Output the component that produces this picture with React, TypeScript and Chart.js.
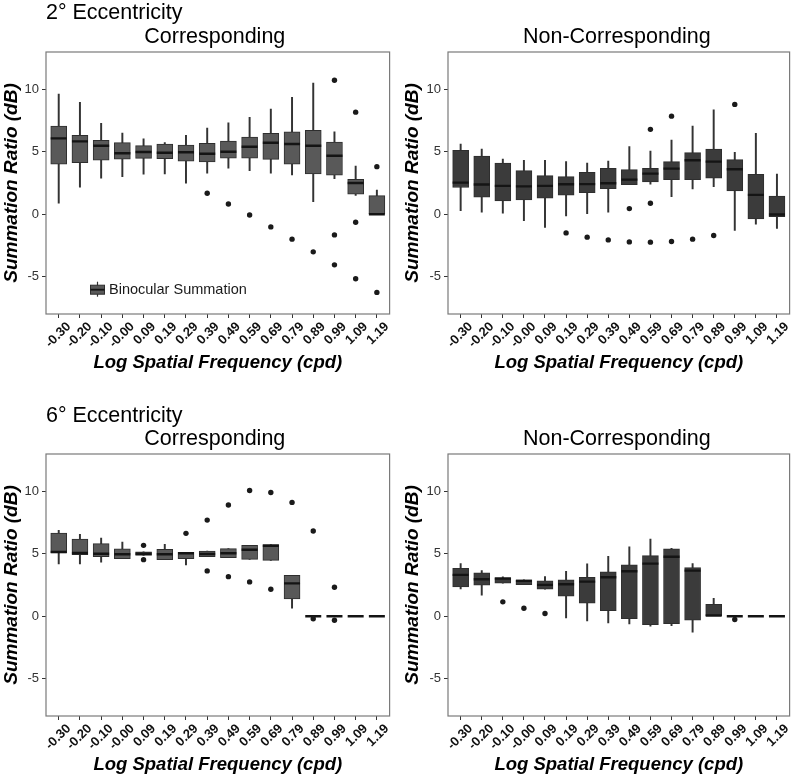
import React, { useEffect, useRef } from 'react';
import { Chart, registerables } from 'chart.js';

Chart.register(...registerables);
Chart.defaults.font.family = "'Liberation Sans', Arial, Helvetica, sans-serif";

const freqLabels = ['-0.30', '-0.20', '-0.10', '-0.00', '0.09', '0.19', '0.29', '0.39', '0.49', '0.59', '0.69', '0.79', '0.89', '0.99', '1.09', '1.19'];
const yTicks = [-5, 0, 5, 10];
const legendLabel = 'Binocular Summation';

// 2° eccentricity, corresponding
const c2Low = [0.88, 2.16, 2.88, 3.01, 3.2, 3.22, 2.48, 3.28, 3.68, 3.49, 3.28, 3.14, 1.01, 2.85, 1.5, 0.0];
const c2Q1 = [4.0, 4.13, 4.32, 4.42, 4.48, 4.45, 4.24, 4.18, 4.5, 4.5, 4.4, 4.0, 3.22, 3.12, 1.6, 0.0];
const c2Med = [6.08, 5.84, 5.49, 4.88, 4.98, 4.93, 4.96, 4.85, 5.01, 5.41, 5.73, 5.62, 5.49, 4.69, 2.5, 0.0];
const c2Q3 = [7.06, 6.32, 5.92, 5.73, 5.49, 5.62, 5.54, 5.68, 5.86, 6.18, 6.48, 6.61, 6.72, 5.78, 2.8, 1.49];
const c2High = [9.62, 8.96, 7.28, 6.5, 6.05, 5.73, 6.32, 6.9, 7.33, 7.76, 8.42, 9.36, 10.5, 6.61, 3.86, 1.94];
const c2Out = [[], [], [], [], [], [], [], [1.68], [0.82], [-0.06], [-1.02], [-2.0], [-3.02], [10.74, -1.66, -4.06], [8.18, -0.64, -5.17], [3.81, -6.27]];

// 2° eccentricity, non-corresponding
const n2Low = [0.29, 0.16, 0.08, -0.51, -1.07, -0.14, 0.0, 0.16, 2.37, 2.4, 1.41, 2.02, 2.21, -1.31, -0.8, -1.15];
const n2Q1 = [2.14, 1.36, 1.06, 1.14, 1.28, 1.52, 1.73, 2.05, 2.37, 2.58, 2.77, 2.77, 2.88, 1.86, -0.38, -0.19];
const n2Med = [2.53, 2.38, 2.27, 2.23, 2.27, 2.4, 2.41, 2.48, 2.77, 3.25, 3.65, 4.32, 4.21, 3.6, 1.55, -0.03];
const n2Q3 = [5.12, 4.66, 4.1, 3.49, 3.09, 3.01, 3.36, 3.68, 3.57, 3.68, 4.21, 4.93, 5.22, 4.37, 3.2, 1.46];
const n2High = [5.62, 5.22, 4.42, 4.32, 4.32, 4.21, 4.1, 4.26, 5.41, 5.06, 5.94, 7.06, 8.37, 4.96, 6.48, 3.22];
const n2Out = [[], [], [], [], [], [-1.5], [-1.84], [-2.06], [0.45, -2.22], [6.8, 0.88, -2.24], [7.86, -2.19], [-2.0], [-1.71], [8.8], [], []];

// 6° eccentricity, corresponding
const c6Low = [4.19, 4.19, 4.32, 4.61, 4.88, 4.53, 4.11, 4.77, 4.69, 4.56, 4.48, 0.64, 0, 0, 0, 0];
const c6Q1 = [5.07, 4.93, 4.77, 4.61, 4.88, 4.53, 4.61, 4.77, 4.69, 4.56, 4.48, 1.38, 0, 0, 0, 0];
const c6Med = [5.15, 5.07, 5.01, 4.96, 5.01, 4.96, 5.04, 4.99, 5.04, 5.33, 5.65, 2.63, 0, 0, 0, 0];
const c6Q3 = [6.67, 6.19, 5.81, 5.39, 5.15, 5.36, 5.12, 5.22, 5.41, 5.68, 5.73, 3.28, 0, 0, 0, 0];
const c6High = [6.88, 6.56, 6.27, 5.95, 5.15, 5.76, 5.12, 5.22, 5.41, 5.68, 5.73, 3.28, 0, 0, 0, 0];
const c6Out = [[], [], [], [], [5.68, 4.53], [], [6.64], [7.7, 3.63], [8.91, 3.17], [10.08, 2.75], [9.92, 2.16], [9.12], [6.83, -0.21], [2.32, -0.32], [], []];

// 6° eccentricity, non-corresponding
const n6Low = [2.19, 1.68, 2.64, 2.53, 2.16, -0.13, -0.37, -0.53, -0.61, -0.8, -0.75, -1.28, 0, 0, 0, 0];
const n6Q1 = [2.35, 2.48, 2.64, 2.53, 2.16, 1.6, 1.04, 0.45, -0.19, -0.67, -0.59, -0.32, 0, 0, 0, 0];
const n6Med = [3.31, 2.96, 3.01, 2.83, 2.51, 2.56, 2.77, 3.12, 3.6, 4.21, 4.77, 3.65, 0.05, 0, 0, 0];
const n6Q3 = [3.84, 3.47, 3.09, 2.91, 2.83, 2.91, 3.12, 3.55, 4.11, 4.85, 5.39, 3.89, 0.96, 0, 0, 0];
const n6High = [4.21, 3.65, 3.15, 2.91, 3.17, 3.6, 4.19, 4.8, 5.55, 6.19, 5.44, 4.21, 1.44, 0, 0, 0];
const n6Out = [[], [], [1.15], [0.64], [0.21], [], [], [], [], [], [], [], [], [-0.27], [], []];

const FONT = "'Liberation Sans', Arial, Helvetica, sans-serif";

const framePlugin = {
  id: 'frame',
  afterDatasetsDraw(chart: any) {
    const { ctx, chartArea } = chart;
    const { left, top, right, bottom } = chartArea;
    ctx.save();
    ctx.strokeStyle = '#7a7a7a';
    ctx.lineWidth = 1.2;
    ctx.strokeRect(left, top, right - left, bottom - top);
    ctx.restore();
  },
};

function makeLegendPlugin(fill: string) {
  return {
    id: 'boxLegend',
    afterDatasetsDraw(chart: any) {
      const { ctx, chartArea } = chart;
      const cx = chartArea.left + 51.5;
      const cy = chartArea.bottom - 24.3;
      ctx.save();
      ctx.strokeStyle = '#333';
      ctx.lineWidth = 1.2;
      ctx.beginPath();
      ctx.moveTo(cx, cy - 8);
      ctx.lineTo(cx, cy + 7);
      ctx.stroke();
      ctx.fillStyle = fill;
      ctx.fillRect(cx - 7, cy - 4.5, 14, 9);
      ctx.strokeStyle = '#2e2e2e';
      ctx.lineWidth = 1;
      ctx.strokeRect(cx - 7, cy - 4.5, 14, 9);
      ctx.strokeStyle = '#141414';
      ctx.lineWidth = 1.8;
      ctx.beginPath();
      ctx.moveTo(cx - 7, cy);
      ctx.lineTo(cx + 7, cy);
      ctx.stroke();
      ctx.fillStyle = '#1a1a1a';
      ctx.font = `14.5px ${FONT}`;
      ctx.textBaseline = 'middle';
      ctx.textAlign = 'left';
      ctx.fillText(legendLabel, cx + 11.5, cy + 0.5);
      ctx.restore();
    },
  };
}

type PanelProps = {
  low: number[]; q1: number[]; med: number[]; q3: number[]; high: number[]; out: number[][];
  fill: string; yWidth: number; yTitlePad: number;
  padTop: number; padRight: number; padBottom: number; legend?: boolean;
  left: number; top: number;
};

function Panel(p: PanelProps) {
  const ref = useRef<HTMLCanvasElement | null>(null);
  useEffect(() => {
    if (!ref.current) return;
    const outPts: { x: number; y: number }[] = [];
    p.out.forEach((arr, i) => arr.forEach((v) => outPts.push({ x: i, y: v })));
    const plugins: any[] = [framePlugin];
    if (p.legend) plugins.push(makeLegendPlugin(p.fill));
    const chart = new Chart(ref.current, {
      type: 'bar',
      data: {
        datasets: [
          {
            type: 'line', label: 'Outliers', data: outPts, showLine: false,
            pointRadius: 2.7, pointBackgroundColor: '#1a1a1a', pointBorderWidth: 0, order: 0,
          } as any,
          {
            type: 'line', label: 'Median', data: p.med.map((v, i) => ({ x: i, y: v })), showLine: false,
            pointStyle: 'line', pointRadius: 8, pointBorderWidth: 2.4, pointBorderColor: '#141414', order: 1,
          } as any,
          {
            type: 'bar', label: legendLabel, data: p.q1.map((v, i) => ({ x: i, y: [v, p.q3[i]] })),
            backgroundColor: p.fill, borderColor: '#2e2e2e', borderWidth: 1, borderSkipped: false,
            barThickness: 16, grouped: false, order: 2,
          } as any,
          {
            type: 'bar', label: 'Whiskers', data: p.low.map((v, i) => ({ x: i, y: [v, p.high[i]] })),
            backgroundColor: '#333333', borderWidth: 0, barThickness: 1.3, grouped: false, order: 3,
          } as any,
        ],
      },
      options: {
        responsive: false,
        animation: false,
        devicePixelRatio: 1,
        events: [],
        layout: { padding: { top: p.padTop, right: p.padRight, bottom: p.padBottom, left: 0 } },
        plugins: { legend: { display: false }, tooltip: { enabled: false } },
        scales: {
          x: {
            type: 'linear', min: -0.6, max: 15.6, offset: false,
            afterBuildTicks: (s: any) => { s.ticks = freqLabels.map((_, i) => ({ value: i })); },
            afterFit: (s: any) => { s.height = 62; },
            ticks: {
              autoSkip: false, minRotation: 45, maxRotation: 45, labelOffset: 10, padding: 1,
              color: '#111', font: { size: 13, weight: 'bold' },
              callback: (v: any) => freqLabels[v] ?? '',
            },
            grid: { drawOnChartArea: false, drawTicks: true, tickLength: 4, color: '#333', offset: false },
            border: { display: false },
            title: {
              display: true, text: 'Log Spatial Frequency (cpd)', color: '#000',
              font: { size: 18.5, weight: 'bold', style: 'italic' }, padding: { top: 0, bottom: 1.9 },
            },
          },
          y: {
            min: -8, max: 13,
            afterBuildTicks: (s: any) => { s.ticks = yTicks.map((v) => ({ value: v })); },
            afterFit: (s: any) => { s.width = p.yWidth; },
            ticks: { color: '#333', font: { size: 13 }, padding: 3, callback: (v: any) => String(v) },
            grid: { drawOnChartArea: false, drawTicks: true, tickLength: 4, color: '#333' },
            border: { display: false },
            title: {
              display: true, text: 'Summation Ratio (dB)', color: '#000',
              font: { size: 19, weight: 'bold', style: 'italic' }, padding: { top: p.yTitlePad, bottom: 0 },
            },
          },
        },
      } as any,
      plugins,
    });
    return () => chart.destroy();
  }, []);
  return (
    <div style={{ position: 'absolute', left: p.left, top: p.top, width: 400, height: 389 }}>
      <canvas ref={ref} width={400} height={389} />
    </div>
  );
}

const titleStyle: React.CSSProperties = {
  position: 'absolute', fontFamily: FONT, fontSize: '21.5px', lineHeight: '24px',
  color: '#000', whiteSpace: 'nowrap',
};

export default function App() {
  return (
    <div style={{ position: 'absolute', left: 0, top: 0, width: 800, height: 778, background: '#fff', overflow: 'hidden' }}>
      <Panel low={c2Low} q1={c2Q1} med={c2Med} q3={c2Q3} high={c2High} out={c2Out}
        fill="#595959" yWidth={46} yTitlePad={0} padTop={52} padRight={5.4} padBottom={13} legend left={0} top={0} />
      <Panel low={n2Low} q1={n2Q1} med={n2Med} q3={n2Q3} high={n2High} out={n2Out}
        fill="#3b3b3b" yWidth={48} yTitlePad={1.4} padTop={52} padRight={3} padBottom={13} left={400} top={0} />
      <Panel low={c6Low} q1={c6Q1} med={c6Med} q3={c6Q3} high={c6High} out={c6Out}
        fill="#595959" yWidth={46} yTitlePad={0} padTop={65} padRight={5.7} padBottom={0} left={0} top={389} />
      <Panel low={n6Low} q1={n6Q1} med={n6Med} q3={n6Q3} high={n6High} out={n6Out}
        fill="#3b3b3b" yWidth={48} yTitlePad={1.4} padTop={65} padRight={3.3} padBottom={0} left={400} top={389} />

      <div style={{ ...titleStyle, left: 46, top: 0 }}>2° Eccentricity</div>
      <div style={{ ...titleStyle, left: 214.8, top: 23.8, transform: 'translateX(-50%)' }}>Corresponding</div>
      <div style={{ ...titleStyle, left: 616.8, top: 23.8, transform: 'translateX(-50%)' }}>Non-Corresponding</div>
      <div style={{ ...titleStyle, left: 46, top: 403.2 }}>6° Eccentricity</div>
      <div style={{ ...titleStyle, left: 214.8, top: 425.5, transform: 'translateX(-50%)' }}>Corresponding</div>
      <div style={{ ...titleStyle, left: 616.8, top: 425.5, transform: 'translateX(-50%)' }}>Non-Corresponding</div>
    </div>
  );
}
